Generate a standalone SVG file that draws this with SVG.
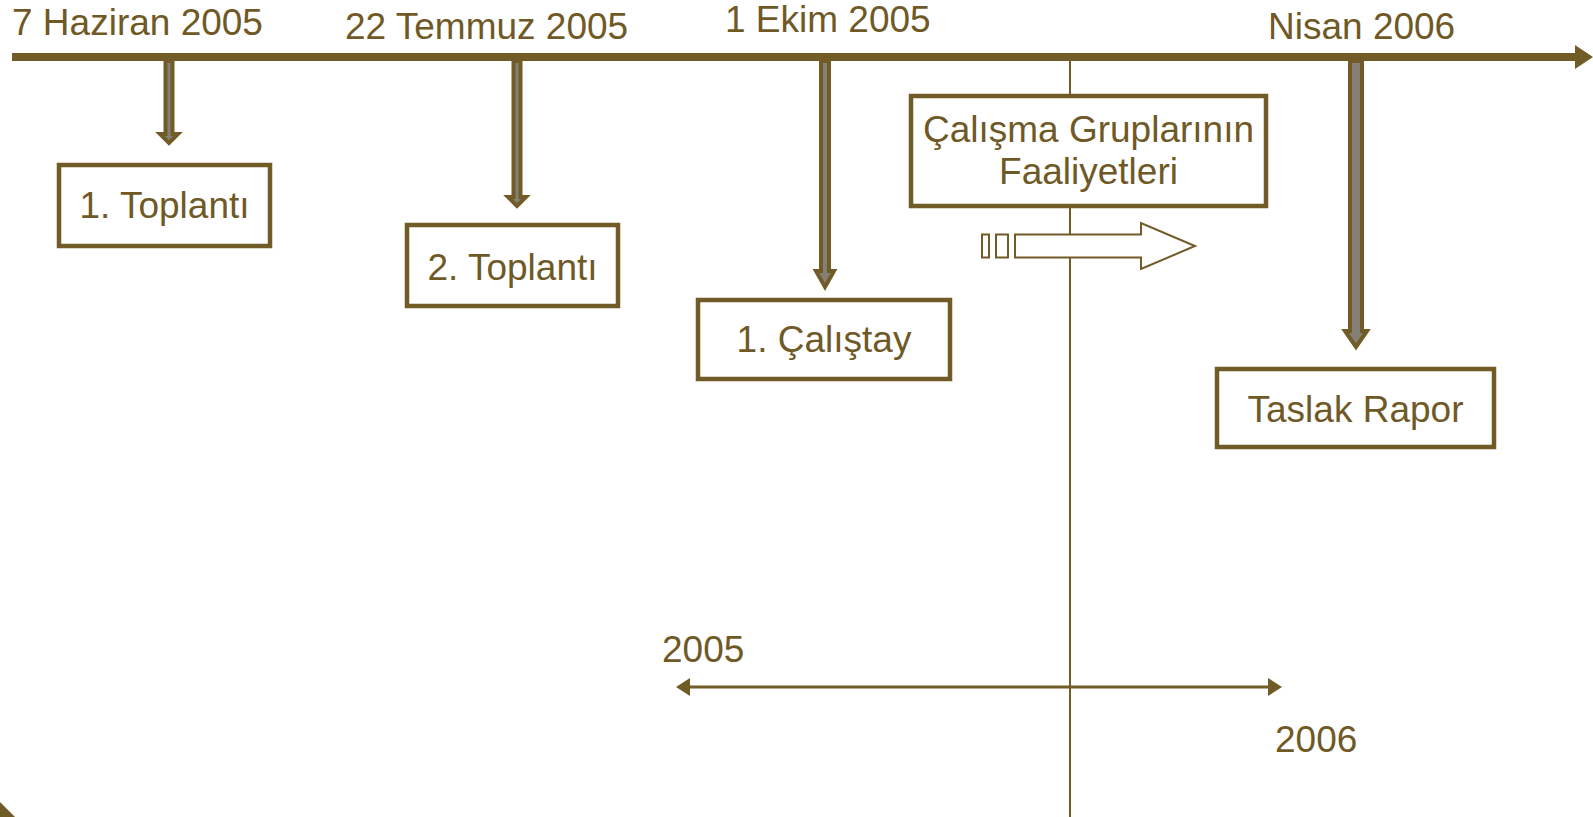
<svg xmlns="http://www.w3.org/2000/svg" width="1593" height="817" viewBox="0 0 1593 817">
<defs>
<style>
.t{font-family:"Liberation Sans",Arial,sans-serif;font-size:37px;fill:#6F5926}
.box{fill:#fff;stroke:#715B27;stroke-width:4.5}
.dn{fill:#858075;stroke:#715B27;stroke-width:4;stroke-linejoin:miter}
.thin{stroke:#715B27;stroke-width:2;fill:none}
.blk{fill:#fff;stroke:#715B27;stroke-width:2}
</style>
<marker id="ah" viewBox="0 0 14 18" refX="2" refY="9" markerWidth="14" markerHeight="18" markerUnits="userSpaceOnUse" orient="auto-start-reverse">
<path d="M0,0 L14,9 L0,18 Z" fill="#715B27"/>
</marker>
</defs>
<rect width="1593" height="817" fill="#fff"/>
<line class="thin" x1="1070" y1="60" x2="1070" y2="817"/>
<g id="connectors">
<polygon fill="#715B27" points="12,53 1575,53 1575,45 1593,57 1575,69 1575,61 12,61"/>
<polygon class="dn" points="165.5,61 172.5,61 172.5,134 178,134 169,143 160,134 165.5,134"/>
<polygon class="dn" points="513.5,61 520.5,61 520.5,197 526,197 517,206 508,197 513.5,197"/>
<polygon class="dn" points="821,61 829,61 829,271 834,271 825,287 816,271 821,271"/>
<polygon class="dn" points="1350,61 1362,61 1362,331 1367,331 1356,347 1345,331 1350,331"/>
<line x1="688" y1="687" x2="1270" y2="687" stroke="#715B27" stroke-width="3" marker-start="url(#ah)" marker-end="url(#ah)"/>
</g>
<g id="dates">
<text class="t" x="12" y="35">7 Haziran 2005</text>
<text class="t" x="345" y="39">22 Temmuz 2005</text>
<text class="t" x="725" y="32">1 Ekim 2005</text>
<text class="t" x="1268" y="39">Nisan 2006</text>
</g>
<g id="toplanti1">
<rect class="box" x="59" y="165" width="211" height="81"/>
<text class="t" x="164.5" y="218" text-anchor="middle">1. Toplantı</text>
</g>
<g id="toplanti2">
<rect class="box" x="407" y="225" width="211" height="81"/>
<text class="t" x="512.5" y="280" text-anchor="middle">2. Toplantı</text>
</g>
<g id="calistay">
<rect class="box" x="698" y="300" width="252" height="79"/>
<text class="t" x="824" y="352" text-anchor="middle">1. Çalıştay</text>
</g>
<g id="calisma">
<rect class="box" x="911" y="96" width="355" height="110"/>
<text class="t" x="1088.5" y="142" text-anchor="middle">Çalışma Gruplarının</text>
<text class="t" x="1088.5" y="184" text-anchor="middle">Faaliyetleri</text>
</g>
<g id="blockarrow">
<rect class="blk" x="982" y="234.5" width="7" height="23"/>
<rect class="blk" x="996" y="234.5" width="12" height="23"/>
<polygon class="blk" points="1015,234.5 1141,234.5 1141,223 1195,246 1141,269 1141,257.5 1015,257.5"/>
</g>
<g id="taslak">
<rect class="box" x="1217" y="369" width="277" height="78"/>
<text class="t" x="1355.5" y="422" text-anchor="middle">Taslak Rapor</text>
</g>
<g id="years">
<text class="t" x="662" y="662">2005</text>
<text class="t" x="1275" y="752">2006</text>
</g>
<polygon fill="#715B27" points="0,802 15,817 0,817"/>
</svg>
